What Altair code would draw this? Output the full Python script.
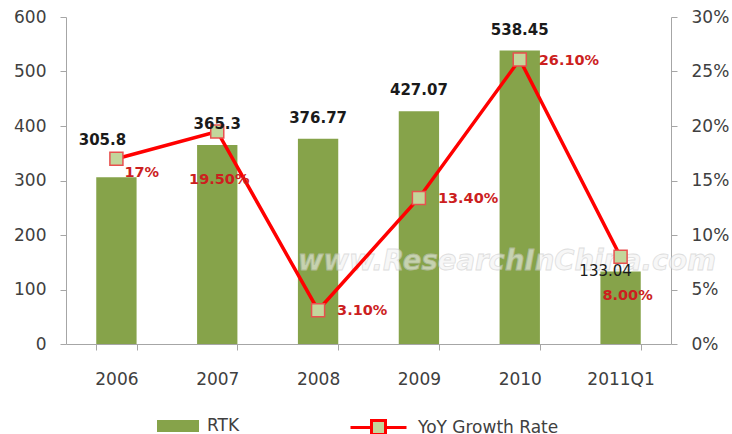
import altair as alt
import pandas as pd

categories = ["2006", "2007", "2008", "2009", "2010", "2011Q1"]
rtk_values = [305.8, 365.3, 376.77, 427.07, 538.45, 133.04]
rtk_labels = ["305.8", "365.3", "376.77", "427.07", "538.45", "133.04"]
growth_values = [0.17, 0.195, 0.031, 0.134, 0.261, 0.08]
growth_labels = ["17%", "19.50%", "3.10%", "13.40%", "26.10%", "8.00%"]
left_ticks = [0, 100, 200, 300, 400, 500, 600]
right_ticks = [0, 0.05, 0.10, 0.15, 0.20, 0.25, 0.30]

df = pd.DataFrame({
    "cat": categories,
    "rtk": rtk_values,
    "rtk_label": rtk_labels,
    "growth": growth_values,
    "growth_label": growth_labels,
    "bar_series": ["RTK"] * len(categories),
    "line_series": ["YoY Growth Rate"] * len(categories),
})

FONT = "DejaVu Sans"
BAR = "#86A34A"
RED = "#FF0000"
LABEL_RED = "#CC1F1F"

base = alt.Chart(df)

x = alt.X("cat:N", sort=categories, title=None,
          scale=alt.Scale(paddingInner=0.6, paddingOuter=0.3),
          axis=alt.Axis(labelAngle=0, tickBand="extent", tickSize=6,
                        labelPadding=21, labelFontSize=17, labelFont=FONT,
                        labelColor="#404040", domainColor="#A6A6A6",
                        tickColor="#A6A6A6", grid=False))

yl_scale = alt.Scale(domain=[0, 600])
yr_scale = alt.Scale(domain=[0, 0.3])

bars = base.mark_bar(color=BAR).encode(
    x=x,
    y=alt.Y("rtk:Q", scale=yl_scale, title=None,
            axis=alt.Axis(values=left_ticks, tickSize=6, labelPadding=14,
                          labelFontSize=17, labelFont=FONT, labelColor="#404040",
                          domainColor="#A6A6A6", tickColor="#A6A6A6", grid=False)),
    fill=alt.Fill("bar_series:N", title=None,
                  scale=alt.Scale(domain=["RTK"], range=[BAR]),
                  legend=alt.Legend(orient="none", legendX=91, legendY=388,
                                    symbolType="M-1,-0.2857H1V0.2857H-1Z",
                                    symbolSize=1764, symbolStrokeWidth=0,
                                    labelOffset=8, labelFontSize=17, labelFont=FONT,
                                    labelColor="#404040", padding=0)),
)

watermark = alt.Chart(pd.DataFrame({"t": ["www.ResearchInChina.com"]})).mark_text(
    font=FONT, fontSize=27.5, fontStyle="italic", fontWeight="bold",
    fill="#f2f2f2", stroke="#c8c8c8", strokeWidth=0.8, opacity=0.6,
).encode(text="t:N", x=alt.value(441), y=alt.value(245))

line = base.mark_line(color=RED, strokeWidth=3.5).encode(
    x=x,
    y=alt.Y("growth:Q", scale=yr_scale, title=None,
            axis=alt.Axis(orient="right", values=right_ticks, format=".0%",
                          tickSize=6, labelPadding=14, labelFontSize=17,
                          labelFont=FONT, labelColor="#404040",
                          domainColor="#A6A6A6", tickColor="#A6A6A6", grid=False)),
    stroke=alt.Stroke("line_series:N", title=None,
                      scale=alt.Scale(domain=["YoY Growth Rate"], range=[RED]),
                      legend=alt.Legend(orient="none", legendX=283, legendY=381,
                                        symbolType="M-1,0H-0.25M0.25,0H1M-0.25,-0.25H0.25V0.25H-0.25Z",
                                        symbolSize=3136, symbolStrokeWidth=3,
                                        symbolFillColor="#C3D69B",
                                        labelOffset=10, labelFontSize=17, labelFont=FONT,
                                        labelColor="#404040", padding=0)),
)

points = base.mark_point(shape="square", size=170, filled=True, fill="#C3D69B",
                         stroke="#E8504F", strokeWidth=1.5, opacity=1).encode(
    x=x, y=alt.Y("growth:Q", scale=yr_scale, axis=None))

def bar_label(cats, dx, dy, weight="bold"):
    return base.transform_filter(
        alt.FieldOneOfPredicate(field="cat", oneOf=cats)
    ).mark_text(font=FONT, fontSize=15, fontWeight=weight, color="#1a1a1a",
                dx=dx, dy=dy, baseline="middle").encode(
        x=x, y=alt.Y("rtk:Q", scale=yl_scale, axis=None), text="rtk_label:N")

def pct_label(cats, dx, dy, align):
    return base.transform_filter(
        alt.FieldOneOfPredicate(field="cat", oneOf=cats)
    ).mark_text(font=FONT, fontSize=14.5, fontWeight="bold", color=LABEL_RED,
                dx=dx, dy=dy, align=align, baseline="middle").encode(
        x=x, y=alt.Y("growth:Q", scale=yr_scale, axis=None), text="growth_label:N")

layers = [
    bars,
    watermark,
    line,
    points,
    bar_label(["2007", "2008", "2009", "2010"], 0, -21),
    bar_label(["2006"], -14, -37),
    bar_label(["2011Q1"], -15, 0, "normal"),
    pct_label(["2008", "2009", "2010"], 19, 1, "left"),
    pct_label(["2006"], 8, 14, "left"),
    pct_label(["2007"], 2, 49, "center"),
    pct_label(["2011Q1"], 7, 39, "center"),
]

chart = alt.layer(*layers).resolve_scale(y="independent").properties(
    width=605, height=327,
    autosize=alt.AutoSizeParams(type="none"),
    padding={"left": 66, "top": 17, "right": 61, "bottom": 90},
    background="white",
).configure_view(stroke=None)

chart.save("out.html", embed_options={"renderer": "svg", "actions": False})
